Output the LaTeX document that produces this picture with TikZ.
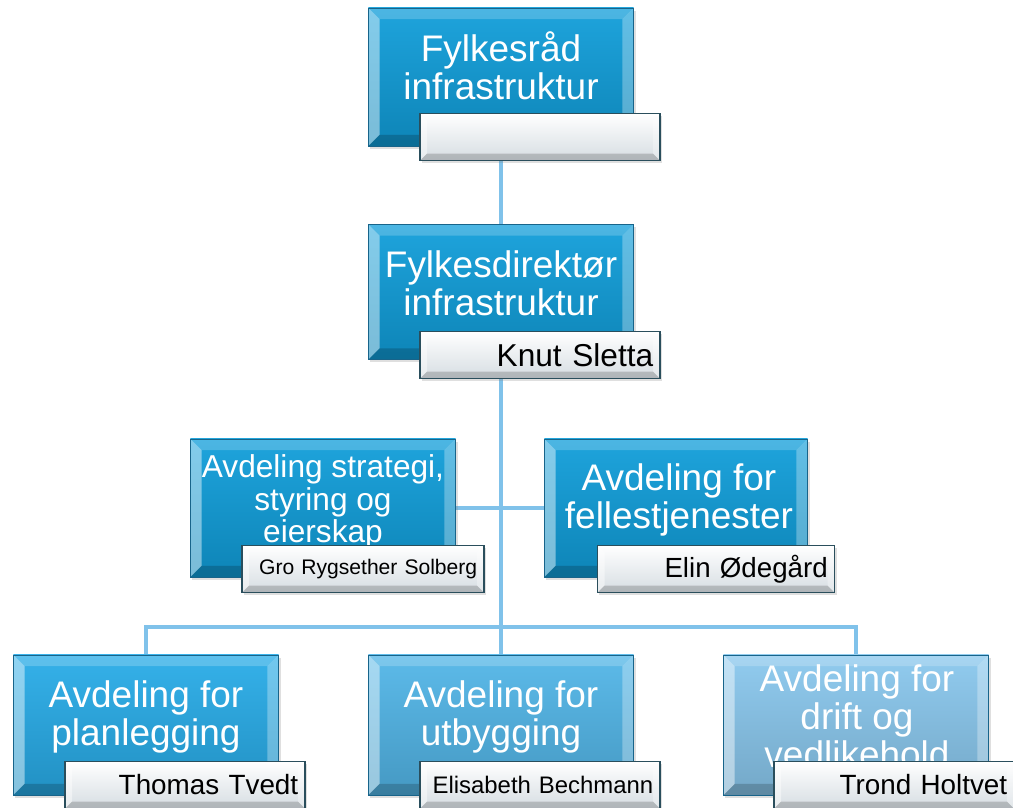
\documentclass[tikz,border=0pt]{standalone}
\usepackage{fontspec}
\setmainfont{Liberation Sans}
\usetikzlibrary{backgrounds,shadows}
\definecolor{deepblue}{RGB}{16,158,218}
\definecolor{planblue}{RGB}{40,172,232}
\definecolor{utbblue}{RGB}{82,182,232}
\definecolor{driftblue}{RGB}{138,200,238}
\definecolor{edgeblue}{RGB}{24,100,138}
\definecolor{linkblue}{RGB}{128,194,234}
\definecolor{nameedge}{RGB}{42,78,92}
\definecolor{namegray}{RGB}{214,221,226}
\tikzset{
    bevel/.style={path picture={
        \coordinate (pnw) at (path picture bounding box.north west);
        \coordinate (pne) at (path picture bounding box.north east);
        \coordinate (psw) at (path picture bounding box.south west);
        \coordinate (pse) at (path picture bounding box.south east);
        \fill[white,opacity=.45] (pnw) -- ([shift={(#1,-#1)}]pnw) -- ([shift={(#1,#1)}]psw) -- (psw) -- cycle;
        \fill[white,opacity=.2] (pnw) -- (pne) -- ([shift={(-#1,-#1)}]pne) -- ([shift={(#1,-#1)}]pnw) -- cycle;
        \fill[white,opacity=.3] (pne) -- (pse) -- ([shift={(-#1,#1)}]pse) -- ([shift={(-#1,-#1)}]pne) -- cycle;
        \fill[black,opacity=.18] (psw) -- ([shift={(#1,#1)}]psw) -- ([shift={(-#1,#1)}]pse) -- (pse) -- cycle;
    }},
    unit/.style={draw=edgeblue,line width=.6pt,top color=#1!94!white,bottom color=#1!84!black,
        minimum width=6.625cm,minimum height=3.45cm,
        bevel=8pt,drop shadow={opacity=.25,shadow xshift=.05cm,shadow yshift=-.07cm}},
    title/.style={text=white,align=center,font=\fontsize{26.3}{27}\selectfont},
    namebox/.style={draw=nameedge,line width=.8pt,top color=white,bottom color=namegray,
        minimum width=6cm,minimum height=1.18cm,text width=5.66cm,inner xsep=.17cm,align=right,
        bevel=5pt,drop shadow={opacity=.25,shadow xshift=.05cm,shadow yshift=-.07cm}},
    link/.style={draw=linkblue,line width=3.5pt}
}
\begin{document}
\begin{tikzpicture}[x=0.025cm,y=-0.025cm]
    \useasboundingbox (0,0) rectangle (1013,808);
    \node[unit=deepblue] (raad) at (501,77) {};
    \node[unit=deepblue,minimum height=3.375cm] (dir) at (501,292) {};
    \node[unit=deepblue] (strat) at (323,508) {};
    \node[unit=deepblue,minimum width=6.575cm] (felles) at (676,508) {};
    \node[unit=planblue,minimum height=3.5cm] (plan) at (146,725) {};
    \node[unit=utbblue,minimum height=3.5cm] (utb) at (501,725) {};
    \node[unit=driftblue,minimum height=3.5cm] (drift) at (856,725) {};
    \coordinate (hub) at (501,627);
    \begin{scope}[on background layer]
        \draw[link] (raad) -- (dir);
        \draw[link] (dir) -- (hub);
        \draw[link] (strat) -- (felles);
        \draw[link] (plan) |- (hub) -| (drift);
        \draw[link] (hub) -- (utb);
    \end{scope}
    \node[title] (raadtxt) at (501,66) {Fylkesråd\\infrastruktur};
    \node[title] (dirtxt) at (501,283) {Fylkesdirektør\\infrastruktur};
    \node[title,font=\fontsize{22.5}{23}\selectfont] (strattxt) at (323,502) {Avdeling strategi,\\styring og\\eierskap};
    \node[title] (fellestxt) at (679,500) {Avdeling for\\fellestjenester};
    \node[title] (plantxt) at (146,717) {Avdeling for\\planlegging};
    \node[title] (utbtxt) at (501,717) {Avdeling for\\utbygging};
    \node[title] (drifttxt) at (857,716) {Avdeling for\\drift og\\vedlikehold};
    \node[namebox] (raadnavn) at (540,137) {};
    \node[namebox,font=\fontsize{22.5}{24}\selectfont] (dirnavn) at (540,355) {Knut Sletta};
    \node[namebox,minimum width=6.05cm,text width=5.71cm,font=\fontsize{15}{17}\selectfont] (stratnavn) at (363,569) {Gro Rygsether Solberg};
    \node[namebox,minimum width=5.925cm,text width=5.585cm,font=\fontsize{19.7}{21}\selectfont] (fellesnavn) at (716,569) {Elin Ødegård};
    \node[namebox,font=\fontsize{19.8}{21}\selectfont] (plannavn) at (185,785) {Thomas Tvedt};
    \node[namebox,font=\fontsize{17}{19}\selectfont] (utbnavn) at (540,785) {Elisabeth Bechmann};
    \node[namebox,font=\fontsize{19.8}{21}\selectfont] (driftnavn) at (894,785) {Trond Holtvet};
\end{tikzpicture}
\end{document}
